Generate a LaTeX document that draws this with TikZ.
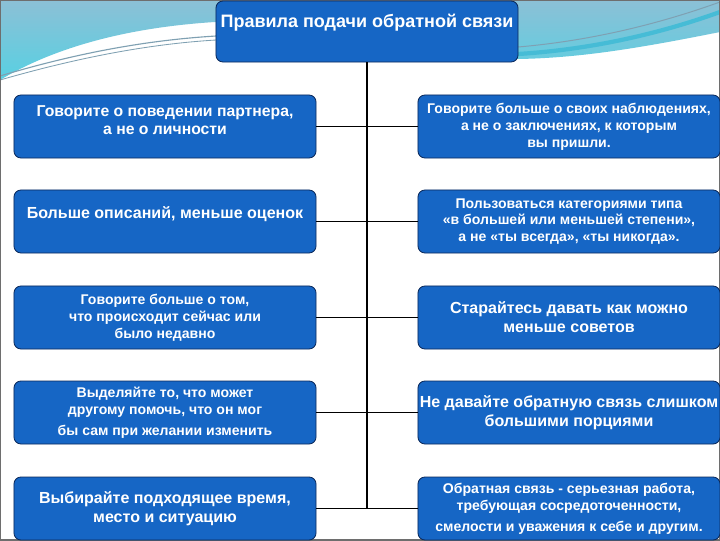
\documentclass[tikz,border=0pt]{standalone}
\usepackage{fontspec}
\setmainfont{Liberation Sans}
\usepackage{tikz}
\usetikzlibrary{positioning}
\definecolor{RuleBlue}{HTML}{1666C5}
\definecolor{RuleNavy}{HTML}{0B2A5C}
\definecolor{SkyTop}{HTML}{8CC0D6}
\definecolor{SkyLow}{HTML}{58D0E2}
\definecolor{SwooshLine}{HTML}{7FA0B2}
\definecolor{SwooshCyan}{HTML}{46BCD6}
\definecolor{FrameGray}{HTML}{6E6E6E}
\tikzset{
    % Boxes - rounded blue slide boxes
    rulebox/.style={
        rectangle,
        rounded corners=5pt,
        draw=RuleNavy,
        fill=RuleBlue,
        line width=0.6pt,
        text=white,
        align=center,
        inner sep=0pt,
        minimum width=7.55cm,
        minimum height=1.575cm,
        font=\fontsize{11.2}{12.5}\selectfont\bfseries
    },
    smalltext/.style={
        font=\fontsize{10}{12}\selectfont\bfseries
    },
    bigtext/.style={
        font=\fontsize{11.4}{13.5}\selectfont\bfseries
    },
    titlebox/.style={
        rulebox,
        font=\fontsize{12.8}{15}\selectfont\bfseries
    },
    % Connector style
    connline/.style={
        draw=black,
        line width=1.4pt
    }
}

\begin{document}
\begin{tikzpicture}[x=0.025cm, y=-0.025cm]
    \clip (0,0) rectangle (720,540);
    \fill[white] (0,0) rectangle (720,540);

    % slide background swoosh
    \shade[top color=SkyTop, bottom color=SkyLow] (0,0) -- (720,0) -- (720,32)
        .. controls (640,48) and (580,58) .. (518,59) -- (300,40) -- (215,22)
        .. controls (120,28) and (50,50) .. (0,80) -- cycle;
    \draw[SwooshCyan, line width=3pt] (518,54) .. controls (600,49) and (670,30) .. (720,12);
    \draw[SwooshLine, line width=0.7pt] (518,47) .. controls (600,40) and (670,20) .. (720,2);
    \draw[SwooshLine, line width=0.8pt] (0,76) .. controls (80,52) and (150,40) .. (216,36);
    \draw[SwooshLine, line width=0.6pt] (0,80) .. controls (80,57) and (150,44) .. (216,40);
    \draw[FrameGray, line width=0.8pt] (0,0) rectangle (720,540);

    \node[titlebox, minimum height=1.525cm, text height=18.5pt, text depth=24.9pt] (title) at (367,31.5) {Правила подачи обратной связи};

    % left column
    \node[rulebox] (l1) at (165,126.5) {Говорите о поведении партнера,\\ а не о личности\\[-3pt]\mbox{}};
    \node[rulebox, bigtext, text height=8pt, text depth=12pt] (l2) at (165,221.5) {Больше описаний, меньше оценок};
    \node[rulebox, smalltext] (l3) at (165,317.5) {Говорите больше о том,\\ что происходит сейчас или\\ было недавно};
    \node[rulebox, smalltext] (l4) at (165,412.5) {Выделяйте то, что может\\ другому помочь, что он мог\\[3pt] бы сам при желании изменить};
    \node[rulebox, bigtext] (l5) at (165,508.5) {Выбирайте подходящее время,\\ место и ситуацию};

    % right column
    \node[rulebox, smalltext] (r1) at (569,126.5) {Говорите больше о своих наблюдениях,\\ а не о заключениях, к которым\\ вы пришли.};
    \node[rulebox, smalltext] (r2) at (569,221.5) {Пользоваться категориями типа\\ «в большей или меньшей степени»,\\ а не «ты всегда», «ты никогда».};
    \node[rulebox, bigtext] (r3) at (569,317.5) {Старайтесь давать как можно\\ меньше советов};
    \node[rulebox, bigtext] (r4) at (569,412.5) {Не давайте обратную связь слишком\\ большими порциями};
    \node[rulebox, smalltext] (r5) at (569,508.5) {Обратная связь - серьезная работа,\\ требующая сосредоточенности,\\[3pt] смелости и уважения к себе и другим.};

    \coordinate (spineend) at (367,508.5);
    \draw[connline] (title.south) -- (spineend);
    \draw[connline] (l1.east) -- (r1.west);
    \draw[connline] (l2.east) -- (r2.west);
    \draw[connline] (l3.east) -- (r3.west);
    \draw[connline] (l4.east) -- (r4.west);
    \draw[connline] (l5.east) -- (r5.west);
\end{tikzpicture}
\end{document}
